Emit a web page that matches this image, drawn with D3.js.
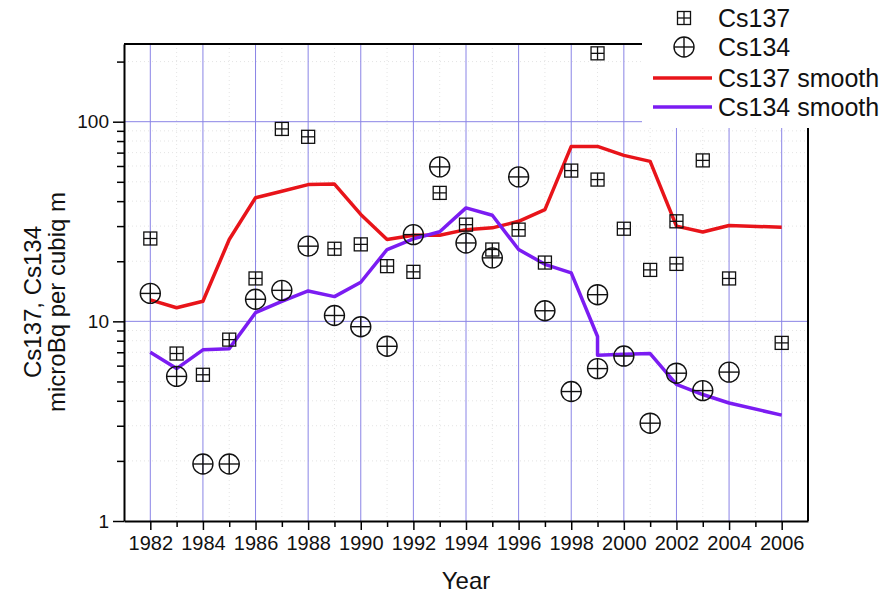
<!DOCTYPE html>
<html>
<head>
<meta charset="utf-8">
<script src="https://cdn.jsdelivr.net/npm/d3@7"></script>
<style>
  body { margin: 0; background: #fff; }
  svg { display: block; font-family: "Liberation Sans", Arial, sans-serif; }
</style>
</head>
<body>
<svg id="chart" width="888" height="594"></svg>
<script>
// ---- data ----
const cs137Years  = [1982,1983,1984,1985,1986,1987,1988,1989,1990,1991,1992,1993,1994,1995,1996,1997,1998,1999,1999,2000,2001,2002,2002,2003,2004,2006];
const cs137Values = [26.0,6.9,5.4,8.1,16.4,92,84,23.1,24.3,18.9,17.7,44,30.5,22.9,28.8,19.7,56.9,220,51.3,29.1,18.1,31.7,19.4,64,16.4,7.8];

const cs134Years  = [1982,1983,1984,1985,1986,1987,1988,1989,1990,1991,1992,1993,1994,1995,1996,1997,1998,1999,1999,2000,2001,2002,2003,2004];
const cs134Values = [13.8,5.3,1.93,1.93,12.9,14.3,23.8,10.7,9.4,7.5,27.2,59.4,24.7,20.8,52.9,11.3,4.45,13.6,5.8,6.7,3.09,5.5,4.5,5.57];

const cs137SmoothYears  = [1982,1983,1984,1985,1986,1987,1988,1989,1990,1991,1992,1993,1994,1995,1996,1997,1998,1999,2000,2001,2002,2003,2004,2006];
const cs137SmoothValues = [12.8,11.7,12.6,25.7,41.6,44.8,48.4,48.7,34.3,25.7,27.0,27.0,28.8,29.4,31.7,36.3,75.2,75.2,67.8,63.3,30.0,28.0,30.2,29.6];

const cs134SmoothYears  = [1982,1983,1984,1985,1986,1987,1988,1989,1990,1991,1992,1993,1994,1995,1996,1997,1998,1999,1999,2000,2001,2002,2003,2004,2006];
const cs134SmoothValues = [7.0,5.8,7.2,7.3,11.05,12.6,14.2,13.3,15.7,22.9,25.9,28.1,37.0,34.0,22.9,19.3,17.5,8.4,6.76,6.84,6.9,4.84,4.3,3.9,3.39];

const xLabelYears = [1982,1984,1986,1988,1990,1992,1994,1996,1998,2000,2002,2004,2006];
const yLabelValues = [1,10,100];

const legendLabels = ["Cs137","Cs134","Cs137 smooth","Cs134 smooth"];

// ---- layout ----
const svg = d3.select("#chart");
const L = 124, R = 808, T = 44, B = 521;
const red = "#e8141a", purple = "#7b1cf2", gridBlue = "#8a84e6";

const x = d3.scaleLinear().domain([1981, 2007]).range([L, R]);
const y = d3.scaleLog().domain([1, 245]).range([B, T]);

const allYears = d3.range(1981, 2008);
const majorY = yLabelValues;
const minorY = [];
[1,10,100].forEach(d => { for (let k = 2; k <= 9; k++) { const v = d*k; if (v <= 245) minorY.push(v); } });

// faint dotted minor grid
const g = svg.append("g");
g.selectAll("line.mgx").data(allYears.filter(d => !xLabelYears.includes(d) && d > 1981 && d < 2007)).enter()
  .append("line").attr("x1", d => x(d)).attr("x2", d => x(d)).attr("y1", T).attr("y2", B)
  .attr("stroke", "#e4e4e4").attr("stroke-width", 1).attr("stroke-dasharray", "1,3");
g.selectAll("line.mgy").data(minorY).enter()
  .append("line").attr("x1", L).attr("x2", R).attr("y1", d => y(d)).attr("y2", d => y(d))
  .attr("stroke", "#e4e4e4").attr("stroke-width", 1).attr("stroke-dasharray", "1,3");

// major grid (blue)
g.selectAll("line.gx").data(xLabelYears).enter()
  .append("line").attr("x1", d => x(d)).attr("x2", d => x(d)).attr("y1", T).attr("y2", B)
  .attr("stroke", gridBlue).attr("stroke-width", 1);
g.selectAll("line.gy").data([10,100]).enter()
  .append("line").attr("x1", L).attr("x2", R).attr("y1", d => y(d)).attr("y2", d => y(d))
  .attr("stroke", gridBlue).attr("stroke-width", 1);

// smooth lines
const line = d3.line().x(d => x(d[0])).y(d => y(d[1]));
svg.append("path").datum(d3.zip(cs137SmoothYears, cs137SmoothValues))
  .attr("d", line).attr("fill", "none").attr("stroke", red).attr("stroke-width", 3.5).attr("stroke-linejoin", "round");
svg.append("path").datum(d3.zip(cs134SmoothYears, cs134SmoothValues))
  .attr("d", line).attr("fill", "none").attr("stroke", purple).attr("stroke-width", 3.5).attr("stroke-linejoin", "round");

// markers
function squareMarker(sel, s) {
  const h = s/2;
  sel.append("rect").attr("x", -h).attr("y", -h).attr("width", s).attr("height", s)
    .attr("fill", "none").attr("stroke", "#111").attr("stroke-width", 1.3);
  sel.append("line").attr("x1", -h).attr("x2", h).attr("y1", 0).attr("y2", 0).attr("stroke", "#111").attr("stroke-width", 1.3);
  sel.append("line").attr("x1", 0).attr("x2", 0).attr("y1", -h).attr("y2", h).attr("stroke", "#111").attr("stroke-width", 1.3);
}
function circleMarker(sel, r) {
  sel.append("circle").attr("r", r).attr("fill", "none").attr("stroke", "#111").attr("stroke-width", 1.4);
  sel.append("line").attr("x1", -r).attr("x2", r).attr("y1", 0).attr("y2", 0).attr("stroke", "#111").attr("stroke-width", 1.4);
  sel.append("line").attr("x1", 0).attr("x2", 0).attr("y1", -r).attr("y2", r).attr("stroke", "#111").attr("stroke-width", 1.4);
}

svg.append("g").selectAll("g").data(d3.zip(cs137Years, cs137Values)).enter()
  .append("g").attr("transform", d => `translate(${x(d[0])},${y(d[1])})`)
  .each(function() { squareMarker(d3.select(this), 13); });
svg.append("g").selectAll("g").data(d3.zip(cs134Years, cs134Values)).enter()
  .append("g").attr("transform", d => `translate(${x(d[0])},${y(d[1])})`)
  .each(function() { circleMarker(d3.select(this), 10); });

// axes
const xAxis = d3.axisBottom(x).tickValues(allYears.filter(d => d > 1981 && d < 2007))
  .tickFormat(d => xLabelYears.includes(d) ? String(d) : "")
  .tickSizeOuter(0);
const gx = svg.append("g").attr("transform", `translate(0,${B})`).call(xAxis);
gx.select(".domain").attr("stroke", "#000").attr("stroke-width", 2);
gx.selectAll(".tick line").attr("stroke", "#000").attr("stroke-width", 1.5)
  .attr("y2", d => xLabelYears.includes(d) ? 9 : 6);
gx.selectAll(".tick text").attr("fill", "#111").attr("font-size", 20)
  .attr("font-family", "Liberation Sans, Arial, sans-serif").attr("y", 15).attr("dy", "0.71em");

const yAxis = d3.axisLeft(y).tickValues(majorY.concat(minorY))
  .tickFormat(d => majorY.includes(d) ? String(d) : "").tickSizeOuter(0);
const gy = svg.append("g").attr("transform", `translate(${L},0)`).call(yAxis);
gy.select(".domain").attr("stroke", "#000").attr("stroke-width", 2);
gy.selectAll(".tick line").attr("stroke", "#000").attr("stroke-width", 1.5)
  .attr("x2", d => majorY.includes(d) ? -11 : -7);
gy.selectAll(".tick text").attr("fill", "#111").attr("font-size", 19)
  .attr("font-family", "Liberation Sans, Arial, sans-serif").attr("x", -15);

// frame: top and right
svg.append("line").attr("x1", L).attr("x2", R).attr("y1", T).attr("y2", T).attr("stroke", "#000").attr("stroke-width", 2);
svg.append("line").attr("x1", R).attr("x2", R).attr("y1", T).attr("y2", B).attr("stroke", "#000").attr("stroke-width", 2);

// legend background (covers top-right corner of the frame)
svg.append("rect").attr("x", 642).attr("y", 0).attr("width", 246).attr("height", 128).attr("fill", "#fff");

const lg = svg.append("g");
const rowsY = [18, 47, 78, 107];
squareMarker(lg.append("g").attr("transform", `translate(684,${rowsY[0]})`), 13);
circleMarker(lg.append("g").attr("transform", `translate(684,${rowsY[1]})`), 10);
lg.append("line").attr("x1", 653).attr("x2", 712).attr("y1", rowsY[2]).attr("y2", rowsY[2]).attr("stroke", red).attr("stroke-width", 3.5);
lg.append("line").attr("x1", 653).attr("x2", 712).attr("y1", rowsY[3]).attr("y2", rowsY[3]).attr("stroke", purple).attr("stroke-width", 3.5);
lg.selectAll("text").data(legendLabels).enter().append("text")
  .attr("x", 718)
  .attr("y", (d, i) => rowsY[i] + 8.5)
  .attr("font-size", 25).attr("fill", "#111").text(d => d);

// axis titles
svg.append("text").attr("x", (L + R) / 2).attr("y", 589).attr("text-anchor", "middle")
  .attr("font-size", 24).attr("fill", "#111").text("Year");
const yt = svg.append("text").attr("transform", "translate(0,302) rotate(-90)").attr("text-anchor", "middle")
  .attr("font-size", 24).attr("fill", "#111");
yt.append("tspan").attr("x", 0).attr("y", 41).text("Cs137, Cs134");
yt.append("tspan").attr("x", 0).attr("y", 65).text("microBq per cubiq m");
</script>
</body>
</html>
